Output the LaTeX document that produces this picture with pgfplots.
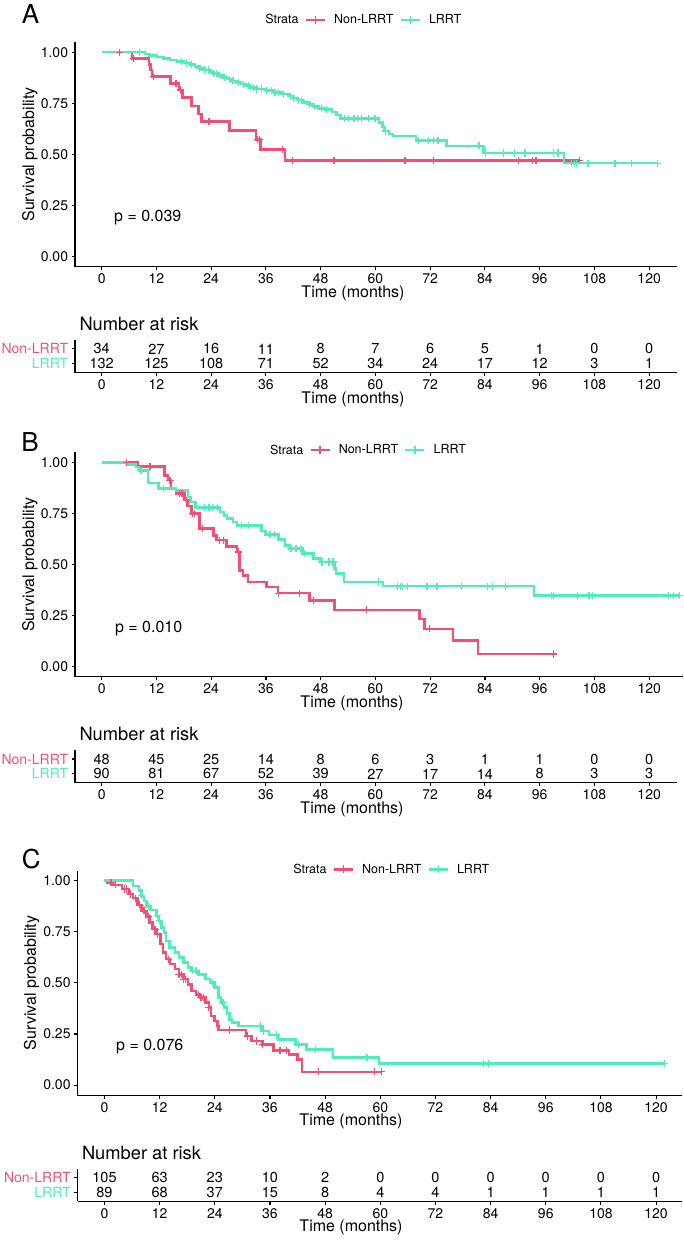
\documentclass[border=0pt]{standalone}
\usepackage{fontspec}
\setmainfont{TeX Gyre Heros}
\usepackage{pgfplots}
\pgfplotsset{compat=1.18}
\definecolor{nonlrrt}{RGB}{248,77,112}
\definecolor{lrrt}{RGB}{78,238,184}
\newcommand{\tickfont}{\fontsize{14}{16}\selectfont}
\newcommand{\labfont}{\fontsize{16}{18}\selectfont}
\newcommand{\legfont}{\fontsize{12.5}{14}\selectfont}
\newcommand{\narfont}{\fontsize{18.3}{20}\selectfont}
\newcommand{\numfont}{\fontsize{14.5}{16}\selectfont}
\newcommand{\panelfont}{\fontsize{26}{28}\selectfont}
\pgfplotsset{
 kmbase/.style={scale only axis, clip=false, axis x line*=bottom, axis y line*=left,
   axis line style={line width=1.1pt,-}, tick style={line width=1.1pt,black},
   tick align=outside, major tick length=3.4pt,
   xtick={0,12,...,120}, ticklabel style={font=\tickfont},
   /pgf/number format/assume math mode=true,
   xlabel={Time (months)},
   every axis x label/.style={at={(axis description cs:0,0)}, anchor=center, yshift=-26.4pt, font=\labfont},
 },
 kmmain/.style={kmbase, height=224.8pt, ymin=-0.05, ymax=1.05,
   ytick={0,0.25,0.5,0.75,1}, yticklabels={0.00,0.25,0.50,0.75,1.00},
   ylabel={Survival probability},
   every axis y label/.style={anchor=center, rotate=90, font=\labfont},
   legend columns=-1,
   legend style={draw=none, fill=none, anchor=center, font=\legfont, inner sep=0pt,
     /tikz/every odd column/.append style={column sep=6pt},
     /tikz/every even column/.append style={column sep=4pt}},
   legend image code/.code={\draw[##1, line width=2.5pt] (0pt,0pt) -- (19pt,0pt);
     \draw[##1, line width=1.2pt] (9.5pt,-4pt) -- (9.5pt,4pt);},
 },
 kmtab/.style={kmbase, height=32.7pt, ymin=0.4, ymax=2.6, ytick={1,2},
   yticklabels={\textcolor{lrrt}{LRRT},\textcolor{nonlrrt}{Non-LRRT}},
   title={Number at risk},
   every axis title/.style={at={(axis description cs:0,1)}, anchor=west, yshift=16pt, xshift=1pt, font=\narfont},
 },
 kmcurve/.style={const plot, line width=2.5pt, mark=none, forget plot},
 kmcens/.style={only marks, mark=+, mark size=3.6pt, mark options={line width=1.2pt}, forget plot},
 kmnum/.style={only marks, mark=none, nodes near coords, point meta=explicit symbolic,
   nodes near coords style={anchor=center, font=\numfont, text=black, inner sep=0pt}},
}
\begin{document}
\begin{tikzpicture}
\path[use as bounding box] (0pt,0pt) rectangle (684pt,-1240pt);
\node[font=\panelfont] at (30.5pt,-14pt) {A};
\node[font=\panelfont] at (30pt,-441.7pt) {B};
\node[font=\panelfont] at (31.2pt,-859.3pt) {C};
% ---------------- Panel A ----------------
\begin{axis}[kmmain, at={(75pt,-42pt)}, anchor=north west, width=602pt,
  xmin=-5.85, xmax=126.1, xlabel style={xshift=278pt},
  ylabel style={at={(axis description cs:-0.0748,0.5)}},
  legend style={at={(axis description cs:0.474,1.098)}}]
\addplot[kmcurve, nonlrrt] coordinates {(0,1)(6.6,0.970)(10.4,0.941)(10.7,0.912)(11,0.882)(15.1,0.848)(16.9,0.815)(17.7,0.778)(19.7,0.737)(21.2,0.698)(21.9,0.661)(28,0.617)(33.8,0.574)(34.8,0.525)(40.2,0.471)(104.7,0.471)};
\addplot[kmcens, nonlrrt] coordinates {(3.9,1)(7,0.970)(11.3,0.882)(16.3,0.848)(17.2,0.815)(23.5,0.661)(34.1,0.574)(34.6,0.574)(39.7,0.525)(41.8,0.471)(50.9,0.471)(66.5,0.471)(72.7,0.471)(91.3,0.471)(94.4,0.471)(95.2,0.471)(104.7,0.471)};
\addplot[kmcurve, lrrt] coordinates {(0,1)(9.5,0.992)(10.5,0.985)(12,0.977)(13.5,0.970)(15,0.962)(16.5,0.955)(18,0.947)(19.5,0.939)(20.5,0.930)(21.5,0.921)(22.5,0.913)(23.8,0.904)(24.5,0.895)(25.5,0.886)(26.5,0.877)(27.5,0.868)(28.5,0.860)(29.5,0.852)(30.5,0.844)(31.5,0.836)(32.5,0.828)(34,0.820)(36,0.812)(38,0.804)(39.5,0.795)(41,0.785)(42,0.775)(43,0.765)(44,0.755)(45.5,0.745)(46.5,0.735)(47.5,0.725)(49,0.720)(50.5,0.708)(51.5,0.692)(52.3,0.675)(60.8,0.655)(61.5,0.635)(62,0.615)(63,0.600)(63.8,0.590)(68.9,0.568)(75.6,0.542)(83.7,0.507)(101.3,0.457)(121.9,0.457)};
\addplot[kmcens, lrrt] coordinates {(8.3,1)(17.5,0.955)(18.6,0.947)(19.7,0.939)(21.5,0.921)(22.6,0.913)(23.4,0.913)(24.5,0.895)(25.2,0.895)(25.9,0.886)(27,0.877)(28.1,0.868)(28.8,0.860)(29.9,0.852)(31,0.844)(32.1,0.836)(33.2,0.828)(34,0.820)(35.1,0.820)(36.2,0.812)(37.3,0.812)(38,0.804)(38.7,0.804)(39.8,0.795)(41.3,0.785)(42,0.775)(43.1,0.765)(43.8,0.765)(45.6,0.745)(46.7,0.735)(48.2,0.725)(49.3,0.720)(53.2,0.675)(54.1,0.675)(55.3,0.675)(56.1,0.675)(57,0.675)(58.5,0.675)(59.9,0.675)(62.2,0.615)(69.4,0.568)(71.7,0.568)(72.7,0.568)(73.7,0.568)(82.7,0.542)(84.2,0.507)(88,0.507)(90.4,0.507)(92.8,0.507)(99,0.507)(100,0.507)(103,0.457)(103.7,0.457)(104.1,0.457)(106.6,0.457)(112.5,0.457)(116.2,0.457)(121.9,0.457)};
\addlegendimage{empty legend}\addlegendentry{Strata}
\addlegendimage{nonlrrt}\addlegendentry{Non-LRRT}
\addlegendimage{lrrt}\addlegendentry{LRRT}
\node[anchor=base west, font=\labfont, inner sep=0pt] at (axis cs:2.7,0.171) {p = 0.039};
\end{axis}
\begin{axis}[kmtab, at={(75pt,-340pt)}, anchor=north west, width=602pt,
  xmin=-5.85, xmax=126.1, xlabel style={xshift=278pt}]
\addplot[kmnum] coordinates {(0,2)[34] (12,2)[27] (24,2)[16] (36,2)[11] (48,2)[8] (60,2)[7] (72,2)[6] (84,2)[5] (96,2)[1] (108,2)[0] (120,2)[0]};
\addplot[kmnum] coordinates {(0,1)[132] (12,1)[125] (24,1)[108] (36,1)[71] (48,1)[52] (60,1)[34] (72,1)[24] (84,1)[17] (96,1)[12] (108,1)[3] (120,1)[1]};
\end{axis}
% ---------------- Panel B ----------------
\begin{axis}[kmmain, at={(75pt,-452.1pt)}, anchor=north west, width=608pt,
  xmin=-5.85, xmax=127.4, xlabel style={xshift=277pt},
  ylabel style={at={(axis description cs:-0.074,0.5)}},
  legend style={at={(axis description cs:0.477,1.009)}}]
\addplot[kmcurve, nonlrrt] coordinates {(0,1)(8,0.979)(13.8,0.935)(14.5,0.913)(15.2,0.872)(16.3,0.848)(18.2,0.815)(18.8,0.786)(19.7,0.750)(21.4,0.676)(24.5,0.643)(25.2,0.619)(27.3,0.589)(29.7,0.561)(30.2,0.471)(31,0.447)(32.1,0.414)(36.1,0.390)(38.6,0.360)(45.5,0.324)(51,0.278)(69.6,0.234)(70.8,0.185)(77,0.128)(82.5,0.062)(99,0.062)};
\addplot[kmcens, nonlrrt] coordinates {(5.4,1)(10.6,0.979)(14.8,0.913)(15.1,0.913)(17,0.848)(17.6,0.848)(18.5,0.815)(19.9,0.750)(20.4,0.750)(22.1,0.676)(25.9,0.619)(26.7,0.619)(29.9,0.561)(38.8,0.360)(43.4,0.360)(46.4,0.324)(58.1,0.278)(71.8,0.185)(99,0.062)};
\addplot[kmcurve, lrrt] coordinates {(0,1)(5.5,0.989)(7.5,0.978)(8.2,0.959)(10.1,0.900)(12.5,0.872)(16.3,0.861)(18.9,0.831)(19.5,0.807)(20.6,0.780)(25.9,0.758)(26.8,0.741)(27.5,0.725)(28.8,0.709)(29.7,0.692)(35,0.665)(35.9,0.648)(38.8,0.622)(40.2,0.594)(41.2,0.578)(44,0.553)(46.4,0.529)(47.9,0.512)(51,0.480)(51.4,0.455)(53.1,0.414)(61.7,0.394)(94.7,0.349)(126.7,0.349)};
\addplot[kmcens, lrrt] coordinates {(8.6,0.959)(13.5,0.872)(22.5,0.780)(23.5,0.780)(24.3,0.780)(25.4,0.780)(30.7,0.692)(32.1,0.692)(36.9,0.648)(37.8,0.648)(41.5,0.578)(42.6,0.578)(43.6,0.578)(44.5,0.553)(48.3,0.512)(49.8,0.512)(50.7,0.512)(60.6,0.414)(64.8,0.394)(65.4,0.394)(66,0.394)(67,0.394)(71.3,0.394)(73.5,0.394)(78.9,0.394)(84.6,0.394)(85.6,0.394)(88.5,0.394)(98.5,0.349)(99,0.349)(104.2,0.349)(106.8,0.349)(107.6,0.349)(124.3,0.349)(125.3,0.349)(126.7,0.349)};
\addlegendimage{empty legend}\addlegendentry{Strata}
\addlegendimage{nonlrrt}\addlegendentry{Non-LRRT}
\addlegendimage{lrrt}\addlegendentry{LRRT}
\node[anchor=base west, font=\labfont, inner sep=0pt] at (axis cs:2.9,0.168) {p = 0.010};
\end{axis}
\begin{axis}[kmtab, at={(75pt,-750.1pt)}, anchor=north west, width=602pt,
  xmin=-5.85, xmax=126.1, xlabel style={xshift=277pt}]
\addplot[kmnum] coordinates {(0,2)[48] (12,2)[45] (24,2)[25] (36,2)[14] (48,2)[8] (60,2)[6] (72,2)[3] (84,2)[1] (96,2)[1] (108,2)[0] (120,2)[0]};
\addplot[kmnum] coordinates {(0,1)[90] (12,1)[81] (24,1)[67] (36,1)[52] (48,1)[39] (60,1)[27] (72,1)[17] (84,1)[14] (96,1)[8] (108,1)[3] (120,1)[3]};
\end{axis}
% ---------------- Panel C ----------------
\begin{axis}[kmmain, at={(77.5pt,-870.5pt)}, anchor=north west, width=604.8pt,
  xmin=-5.87, xmax=125.7, xlabel style={xshift=273.5pt},
  ylabel style={at={(axis description cs:-0.0757,0.5)}},
  legend style={at={(axis description cs:0.514,1.005)}}]
\addplot[kmcurve, nonlrrt] coordinates {(0,1)(0.5,0.990)(1.9,0.980)(3.8,0.960)(5.3,0.935)(6.2,0.915)(7.2,0.882)(8.1,0.853)(9.1,0.824)(9.8,0.796)(10.5,0.763)(11.3,0.739)(12.2,0.690)(12.7,0.649)(13.4,0.616)(14.3,0.592)(15.3,0.567)(16.2,0.542)(17.2,0.518)(18.2,0.493)(18.9,0.461)(19.9,0.444)(20.8,0.428)(22,0.404)(22.7,0.379)(23.2,0.338)(23.9,0.314)(24.6,0.289)(24.8,0.270)(30.8,0.240)(32,0.216)(34.4,0.199)(36.8,0.170)(40.1,0.150)(42,0.126)(43,0.065)(60.2,0.065)};
\addplot[kmcens, nonlrrt] coordinates {(1.4,0.990)(2.4,0.980)(4.3,0.960)(4.8,0.960)(5.7,0.935)(6.7,0.915)(7.6,0.882)(8.6,0.853)(9.6,0.824)(11,0.763)(11.5,0.739)(13.9,0.616)(16.2,0.542)(16.7,0.542)(17.2,0.518)(17.7,0.518)(20.5,0.444)(21,0.428)(21.5,0.428)(22.7,0.379)(27.2,0.270)(31.1,0.240)(33,0.216)(34.4,0.199)(38.2,0.170)(39.6,0.170)(46.6,0.065)(58.8,0.065)(60.2,0.065)};
\addplot[kmcurve, lrrt] coordinates {(0,1)(6.2,0.975)(7.5,0.951)(8.1,0.926)(8.6,0.902)(9.1,0.873)(10,0.856)(11.3,0.828)(11.9,0.804)(12.4,0.771)(12.9,0.747)(13.4,0.706)(14.1,0.673)(15.3,0.649)(16.2,0.624)(17.2,0.600)(18.2,0.575)(18.9,0.559)(20.5,0.542)(22,0.518)(22.9,0.502)(23.9,0.477)(24.8,0.428)(25.3,0.404)(26,0.379)(26.6,0.350)(27.2,0.322)(27.7,0.306)(29.1,0.289)(34.2,0.265)(35.8,0.245)(37.7,0.224)(41.6,0.199)(43.9,0.175)(49.7,0.134)(59.7,0.105)(121.8,0.105)};
\addplot[kmcens, lrrt] coordinates {(8.1,0.926)(9.6,0.873)(11.5,0.828)(12,0.804)(19.1,0.559)(19.9,0.559)(23.5,0.502)(25.8,0.404)(34,0.289)(34.6,0.265)(37.4,0.245)(42.2,0.199)(45.9,0.175)(57.1,0.134)(82.4,0.105)(83.6,0.105)(121.8,0.105)};
\addlegendimage{empty legend}\addlegendentry{Strata}
\addlegendimage{nonlrrt}\addlegendentry{Non-LRRT}
\addlegendimage{lrrt}\addlegendentry{LRRT}
\node[anchor=base west, font=\labfont, inner sep=0pt] at (axis cs:2.5,0.171) {p = 0.076};
\end{axis}
\begin{axis}[kmtab, at={(77.5pt,-1168.5pt)}, anchor=north west, width=604.8pt,
  xmin=-5.87, xmax=125.7, xlabel style={xshift=273.5pt}]
\addplot[kmnum] coordinates {(0,2)[105] (12,2)[63] (24,2)[23] (36,2)[10] (48,2)[2] (60,2)[0] (72,2)[0] (84,2)[0] (96,2)[0] (108,2)[0] (120,2)[0]};
\addplot[kmnum] coordinates {(0,1)[89] (12,1)[68] (24,1)[37] (36,1)[15] (48,1)[8] (60,1)[4] (72,1)[4] (84,1)[1] (96,1)[1] (108,1)[1] (120,1)[1]};
\end{axis}
\end{tikzpicture}
\end{document}
